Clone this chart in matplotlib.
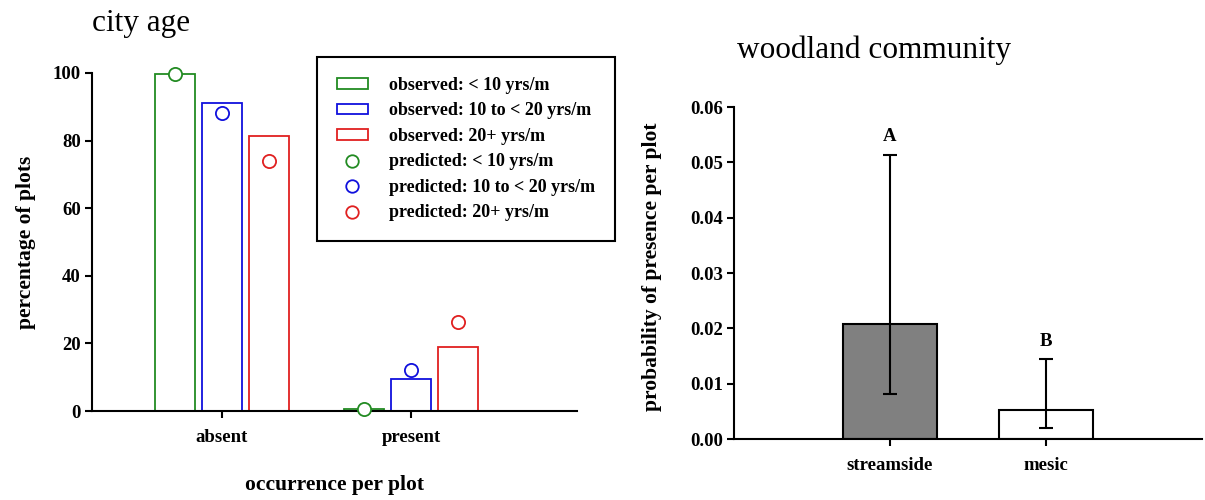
import numpy as np
import matplotlib.pyplot as plt
from matplotlib.lines import Line2D

plt.rcParams['font.family'] = ['Liberation Serif', 'DejaVu Serif']

# city age panel
categories = ['absent', 'present']
age_groups = ['< 10 yrs/m', '10 to < 20 yrs/m', '20+ yrs/m']
group_colors = ['#228b22', '#1010dd', '#e02020']
observed_lt10 = [99.6, 0.7]
observed_10to20 = [91.1, 9.4]
observed_20plus = [81.4, 18.9]
predicted_lt10 = [99.6, 0.7]
predicted_10to20 = [88.1, 12.1]
predicted_20plus = [74.0, 26.2]

# woodland community panel
habitats = ['streamside', 'mesic']
presence_prob = [0.0207, 0.0052]
ci_low = [0.0081, 0.0019]
ci_high = [0.0514, 0.0144]
letters = ['A', 'B']
habitat_fill = ['#808080', 'white']

W, H = 1205, 500
fig = plt.figure(figsize=(W / 100, H / 100), dpi=100)

label_font = dict(fontsize=15.5, fontweight='bold')
LW = 1.3


def style_axes(ax):
    for s in ['top', 'right']:
        ax.spines[s].set_visible(False)
    for s in ['left', 'bottom']:
        ax.spines[s].set_linewidth(1.5)
    ax.tick_params(direction='out', length=5, width=1.5)
    ax.tick_params(axis='y', pad=3)
    ax.tick_params(axis='x', pad=8)
    for lab in ax.get_xticklabels() + ax.get_yticklabels():
        lab.set_fontsize(13.5)
        lab.set_fontweight('bold')


# ---- left: observed vs predicted by city age ----
ax1 = fig.add_axes([92 / W, (H - 411) / H, (577 - 92) / W, (411 - 73) / H])
x = np.arange(1, len(categories) + 1)
w = 0.21
offsets = [-0.25, 0, 0.25]
observed = [observed_lt10, observed_10to20, observed_20plus]
predicted = [predicted_lt10, predicted_10to20, predicted_20plus]
handles = []
labels = []
for obs, off, c, g in zip(observed, offsets, group_colors, age_groups):
    b = ax1.bar(x + off, obs, width=w, facecolor='white', edgecolor=c, linewidth=LW, zorder=2)
    handles.append(b)
    labels.append('observed: ' + g)
for pred, off, c, g in zip(predicted, offsets, group_colors, age_groups):
    ax1.plot(x + off, pred, 'o', markersize=9.5, markerfacecolor='white', markeredgecolor=c,
             markeredgewidth=LW, linestyle='none', clip_on=False, zorder=3)
    handles.append(Line2D([], [], marker='o', markersize=9, markerfacecolor='white',
                          markeredgecolor=c, markeredgewidth=LW, linestyle='none'))
    labels.append('predicted: ' + g)

ax1.set_xlim(0.312, 2.878)
ax1.set_ylim(0, 100)
ax1.set_yticks([0, 20, 40, 60, 80, 100])
ax1.set_xticks(x)
ax1.set_xticklabels(categories)
style_axes(ax1)
ax1.set_xlabel('occurrence per plot', labelpad=21, **label_font)
ax1.set_ylabel('percentage of plots', **label_font)
ax1.yaxis.set_label_coords(-0.115, 0.5)
fig.text(92 / W, 1 - 24 / H, 'city age', fontsize=22.5, va='center', ha='left')

leg = ax1.legend(handles, labels, loc='upper left',
                 bbox_to_anchor=(317 / W, 1 - 57 / H), bbox_transform=fig.transFigure,
                 prop=dict(family='Liberation Serif', weight='bold', size=13),
                 frameon=True, fancybox=False, edgecolor='black', framealpha=1,
                 handlelength=1.7, handleheight=0.5, labelspacing=0.47,
                 borderpad=1.1, handletextpad=1.2, borderaxespad=0)
leg.get_frame().set_linewidth(1.5)

# ---- right: probability of presence by woodland community ----
ax2 = fig.add_axes([734 / W, (H - 439) / H, (1202 - 734) / W, (439 - 107) / H])
hx = np.arange(1, len(habitats) + 1)
yerr = [np.array(presence_prob) - np.array(ci_low), np.array(ci_high) - np.array(presence_prob)]
ax2.bar(hx, presence_prob, width=0.6, color=habitat_fill, edgecolor='black', linewidth=1.5, zorder=2)
ax2.errorbar(hx, presence_prob, yerr=yerr, fmt='none', ecolor='black', elinewidth=1.5,
             capsize=5, capthick=1.5, zorder=3)
for xi, top, letter in zip(hx, ci_high, letters):
    ax2.annotate(letter, (xi, top), xytext=(0, 7), textcoords='offset points',
                 ha='center', va='bottom', fontsize=13.5, fontweight='bold')
ax2.set_xlim(0, 3)
ax2.set_ylim(0, 0.06)
ax2.set_yticks([0, 0.01, 0.02, 0.03, 0.04, 0.05, 0.06])
ax2.set_yticklabels(['0.00', '0.01', '0.02', '0.03', '0.04', '0.05', '0.06'])
ax2.set_xticks(hx)
ax2.set_xticklabels(habitats)
style_axes(ax2)
ax2.set_ylabel('probability of presence per plot', **label_font)
ax2.yaxis.set_label_coords(-0.153, 0.52)
fig.text(874 / W, 1 - 50 / H, 'woodland community', fontsize=22.5, va='center', ha='center')

fig.savefig('out.png', dpi=100)
